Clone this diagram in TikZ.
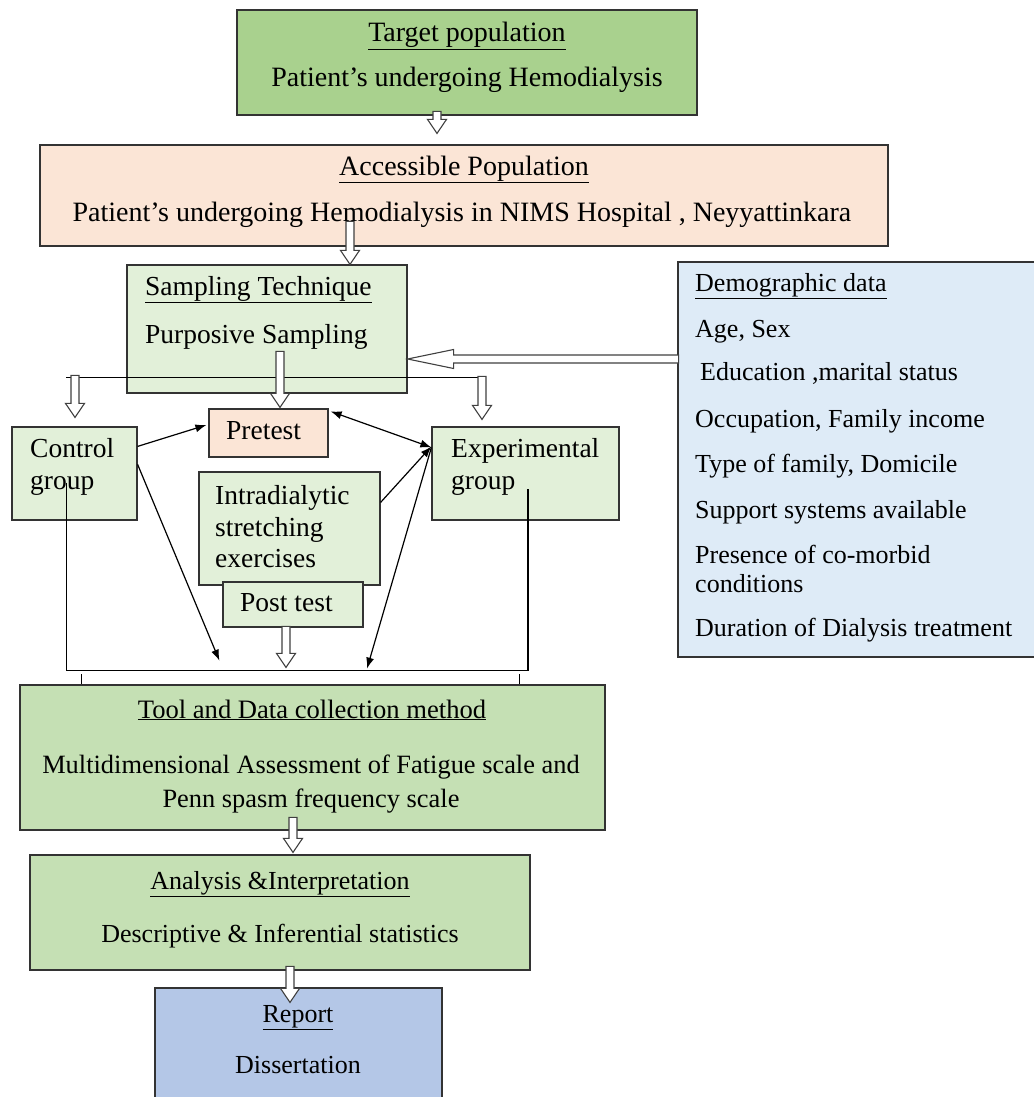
\documentclass[tikz,border=0pt]{standalone}
\usepackage{fontspec}
\setmainfont{Liberation Serif}
\usetikzlibrary{calc,arrows.meta}
\definecolor{targetgreen}{HTML}{A9D18E}
\definecolor{peach}{HTML}{FBE5D6}
\definecolor{palegreen}{HTML}{E2F0D9}
\definecolor{paleblue}{HTML}{DEEBF7}
\definecolor{toolgreen}{HTML}{C5E0B4}
\definecolor{reportblue}{HTML}{B4C7E7}
\tikzstyle{box}=[draw=black!80,line width=1.2pt,rectangle,inner sep=0pt]
\tikzstyle{lbl}=[anchor=base west,inner sep=0pt]
\tikzstyle{ctr}=[anchor=base,inner sep=0pt]
\tikzstyle{bigtxt}=[font=\fontsize{28}{32}\selectfont]
\tikzstyle{midtxt}=[font=\fontsize{27.5}{31}\selectfont]
\tikzstyle{hollow}=[draw=black!75,line width=1.1pt,fill=white,line join=miter]
\tikzstyle{link}=[line width=1.2pt,-{Latex[length=11pt,width=8pt]}]
\tikzstyle{plain}=[line width=1.2pt]
\newcommand{\hollowarrow}[4][0]{% [rotation] {tip} {length} {head length}
  \draw[hollow,shift={(#2)},rotate=#1] (-4,-#3) -- (-4,-#4) -- (-9.5,-#4) -- (0,0) -- (9.5,-#4) -- (4,-#4) -- (4,-#3) -- cycle;
}
\begin{document}
\begin{tikzpicture}[x=1pt,y=-1pt,font=\fontsize{26}{30}\selectfont]
\useasboundingbox (0,0) rectangle (1033,1097);
% boxes
\node[box,fill=targetgreen,minimum width=460pt,minimum height=105pt] (target) at (467,62.5) {};
\node[box,fill=peach,minimum width=848pt,minimum height=101pt] (access) at (464,195.5) {};
\node[box,fill=palegreen,minimum width=280pt,minimum height=128pt] (samp) at (267,329) {};
\node[box,fill=paleblue,minimum width=358pt,minimum height=395pt] (demo) at (857,459.5) {};
\node[box,fill=palegreen,minimum width=125pt,minimum height=93pt] (control) at (74.5,473.5) {};
\node[box,fill=peach,minimum width=119pt,minimum height=48pt] (pretest) at (268.5,433) {};
\node[box,fill=palegreen,minimum width=187pt,minimum height=93pt] (exper) at (525.5,473.5) {};
\node[box,fill=palegreen,minimum width=181pt,minimum height=113pt] (intra) at (289.5,528.5) {};
\node[box,fill=palegreen,minimum width=140pt,minimum height=45pt] (post) at (293,604.5) {};
\node[box,fill=toolgreen,minimum width=585pt,minimum height=145pt] (tool) at (312.5,757.5) {};
\node[box,fill=toolgreen,minimum width=500pt,minimum height=115pt] (analysis) at (280,912.5) {};
\node[box,fill=reportblue,minimum width=287pt,minimum height=130pt] (report) at (298.5,1053) {};

% texts
\node[ctr,bigtxt] (targethead) at (467,42) {\underline{Target population}};
\node[ctr,bigtxt] (targettext) at (467,87) {Patient’s undergoing Hemodialysis};
\node[ctr,bigtxt] (accesshead) at (464,175) {\underline{Accessible Population}};
\node[ctr,bigtxt] (accesstext) at (462,221) {Patient’s undergoing Hemodialysis in NIMS Hospital , Neyyattinkara};
\node[lbl,midtxt] (samphead) at (145,295) {\underline{Sampling Technique}};
\node[lbl,midtxt] (samptext) at (145,343) {Purposive Sampling};
\node[lbl] (demohead) at (695,291) {\underline{Demographic data}};
\node[lbl] (demo1) at (695,337) {Age, Sex};
\node[lbl] (demo2) at (700,380) {Education ,marital status};
\node[lbl] (demo3) at (695,427) {Occupation, Family income};
\node[lbl] (demo4) at (695,472) {Type of family, Domicile};
\node[lbl] (demo5) at (695,518) {Support systems available};
\node[lbl] (demo6) at (695,563) {Presence of co-morbid};
\node[lbl] (demo7) at (695,592) {conditions};
\node[lbl] (demo8) at (695,636) {Duration of Dialysis treatment};
\node[lbl,midtxt] (controltext) at (30,457) {Control};
\node[lbl,midtxt] (controltext2) at (30,489) {group};
\node[lbl,midtxt] (pretesttext) at (226,439) {Pretest};
\node[lbl,midtxt] (expertext) at (451,457) {Experimental};
\node[lbl,midtxt] (expertext2) at (451,489) {group};
\node[lbl,midtxt] (intra1) at (215,504) {Intradialytic};
\node[lbl,midtxt] (intra2) at (215,536) {stretching};
\node[lbl,midtxt] (intra3) at (215,567) {exercises};
\node[lbl,midtxt] (posttext) at (240,611) {Post test};
\node[ctr,font=\fontsize{26.6}{30}\selectfont] (toolhead) at (312,718) {\underline{Tool and Data collection method}};
\node[ctr,font=\fontsize{26.4}{30}\selectfont] (tooltext) at (311,773) {Multidimensional Assessment of Fatigue scale and};
\node[ctr,font=\fontsize{26.4}{30}\selectfont] (tooltext2) at (311,807) {Penn spasm frequency scale};
\node[ctr] (analysishead) at (280,889) {\underline{Analysis \&Interpretation}};
\node[ctr] (analysistext) at (280,942) {Descriptive \& Inferential statistics};
\node[ctr] (reporthead) at (298,1022) {\underline{Report}};
\node[ctr] (reporttext) at (298,1073) {Dissertation};

% split line under sampling
\draw[plain] ($(samp.south west)+(-60,-16)$) coordinate (splitL) -- ($(samp.south east)+(70,-16)$) coordinate (splitR);
% hollow arrows
\hollowarrow{$(access.north)+(-27,-11)$}{22}{14}
\hollowarrow{$(samp.north)+(83,0)$}{43}{14}
\hollowarrow{$(control.north)+(0.5,-9)$}{42}{14}
\hollowarrow{$(pretest.north)+(11.5,-1)$}{56}{14}
\hollowarrow{$(exper.north)+(-43.5,-7)$}{43}{14}
\hollowarrow[-90]{$(samp.east)+(0,30)$}{271}{46}
\hollowarrow{$(tool.north)+(-26.5,-17)$}{41}{14}
\hollowarrow{$(analysis.north)+(13,-2)$}{35}{14}
\hollowarrow{$(report.north)+(-8.5,15)$}{36}{14}

% arrows between groups
\draw[link] ($(control.north east)+(0,20)$) -- ($(pretest.west)+(-2,-8)$);
\draw[line width=1.2pt,{Latex[length=11pt,width=8pt]}-{Latex[length=11pt,width=8pt]}] ($(pretest.north east)+(2,3)$) -- ($(exper.north west)+(0,21)$);
\draw[link] ($(intra.north east)+(0,31)$) -- ($(exper.north west)+(0,20)$);

% collecting line
\coordinate (joinL) at ($(control.south west)+(55,150)$);
\coordinate (joinR) at ($(exper.south)+(2.5,150)$);
\draw[plain] ($(control.south west)+(55,-38)$) -- (joinL) -- (joinR) -- ($(exper.south)+(2.5,-32)$);
\draw[link] ($(control.north east)+(0,38)$) -- ($(joinL)+(153,-10)$);
\draw[link] ($(exper.north west)+(0,21)$) -- ($(joinR)+(-161,-2)$);
\draw[plain] ($(tool.north west)+(62,-10)$) -- ($(tool.north west)+(62,0)$);
\draw[plain] ($(tool.north west)+(500,-10)$) -- ($(tool.north west)+(500,0)$);
\end{tikzpicture}
\end{document}
